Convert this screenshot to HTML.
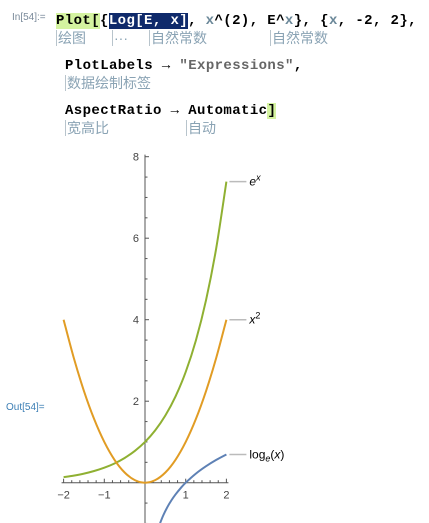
<!DOCTYPE html>
<html><head><meta charset="utf-8">
<style>
body{margin:0;width:429px;height:523px;background:#fff;position:relative;overflow:hidden;font-family:"Liberation Sans","Noto Sans CJK SC",sans-serif}
.code{position:absolute;font-family:"Liberation Mono",monospace;font-weight:bold;font-size:14px;white-space:pre;color:#000;line-height:16px;letter-spacing:0.4px}
.hint{position:absolute;font-size:14px;color:#8aa3b4;white-space:pre;font-family:"Liberation Sans","Noto Sans CJK SC",sans-serif;line-height:16px;border-left:1px solid #b8c4cc;padding-left:1px}
.g{color:#6b8899}.s{color:#666}
.lbl{position:absolute;font-size:10px;color:#3d7fb5}
</style></head><body>
<div class="lbl" style="left:12px;top:12px;color:#7a8a9a">In[54]:=</div>
<div class="code" style="left:56px;top:13px"><span style="background:#d4f3a0">Plot</span><span style="background:#d4f3a0">[</span>{<span style="background:#0f2a6b;color:#fff">Log[E, x]</span>, <span class="g">x</span>^(2), E^<span class="g">x</span>}, {<span class="g">x</span>, -2, 2},</div>
<div class="hint" style="left:56px;top:30px">绘图</div>
<div class="hint" style="left:112px;top:30px">···</div>
<div class="hint" style="left:149px;top:30px">自然常数</div>
<div class="hint" style="left:270px;top:30px">自然常数</div>
<div class="code" style="left:65px;top:58px">PlotLabels → <span class="s">"Expressions"</span>,</div>
<div class="hint" style="left:65px;top:75px">数据绘制标签</div>
<div class="code" style="left:65px;top:103px">AspectRatio → Automatic<span style="background:#d4f3a0">]</span></div>
<div class="hint" style="left:65px;top:120px">宽高比</div>
<div class="hint" style="left:186px;top:120px">自动</div>
<div class="lbl" style="left:6px;top:402px">Out[54]=</div>
<svg id="chart" width="429" height="523" style="position:absolute;left:0;top:0"></svg>
<script>
const xsQ=[-2,-1.75,-1.5,-1.25,-1,-0.75,-0.5,-0.25,0,0.25,0.5,0.75,1,1.25,1.5,1.75,2];
const sqVals=[4,3.0625,2.25,1.5625,1,0.5625,0.25,0.0625,0,0.0625,0.25,0.5625,1,1.5625,2.25,3.0625,4];
const expVals=[0.135,0.174,0.223,0.287,0.368,0.472,0.607,0.779,1,1.284,1.649,2.117,2.718,3.49,4.482,5.755,7.389];
const xsL=[0.37,0.45,0.55,0.65,0.75,0.875,1,1.25,1.5,1.75,2];
const logVals=[-0.994,-0.799,-0.598,-0.431,-0.288,-0.134,0,0.223,0.405,0.560,0.693];
const xTicks=[-2,-1,1,2];const xTickLabels=["−2","−1","1","2"];
const yTicks=[2,4,6,8];const yTickLabels=["2","4","6","8"];
const NS="http://www.w3.org/2000/svg";const svg=document.getElementById('chart');
const X=v=>145+v*40.7, Y=v=>482.7-v*40.75;
function el(t,a){const e=document.createElementNS(NS,t);for(const k in a)e.setAttribute(k,a[k]);svg.appendChild(e);return e;}
let ax=el('line',{x1:X(-2.05),x2:X(2.05),y1:Y(0),y2:Y(0),stroke:'#555','stroke-width':1});

let ay=el('line',{x1:X(0),x2:X(0),y1:Y(8.05),y2:523,stroke:'#555','stroke-width':1});

for(let i=-20;i<=20;i++){const v=i/10;if(i%2)continue;const major=i%10===0;
 const t=el('line',{x1:X(v),x2:X(v),y1:Y(0),y2:Y(0)-(major?4:2.5),stroke:'#555','stroke-width':1});
 }
for(let i=-2;i<=16;i++){const v=i/2;if(v===0)continue;const major=i%4===0;
 const t=el('line',{x1:X(0),x2:X(0)+(major?4:2.5),y1:Y(v),y2:Y(v),stroke:'#555','stroke-width':1});
 }
xTicks.forEach((v,i)=>{const t=el('text',{x:X(v),y:Y(0)+16,'text-anchor':'middle','font-size':11,fill:'#444','font-family':'Liberation Sans'});t.textContent=xTickLabels[i];
 });
yTicks.forEach((v,i)=>{const t=el('text',{x:X(0)-6,y:Y(v)+4,'text-anchor':'end','font-size':11,fill:'#444','font-family':'Liberation Sans'});t.textContent=yTickLabels[i];
 });
function curve(xs,ys,color,name){const P=xs.map((x,i)=>[X(x),Y(ys[i])]);
 let d='M'+P[0][0]+','+P[0][1];
 for(let i=0;i<P.length-1;i++){const p0=P[i-1]||P[i],p1=P[i],p2=P[i+1],p3=P[i+2]||p2;
  d+=` C${p1[0]+(p2[0]-p0[0])/6},${p1[1]+(p2[1]-p0[1])/6} ${p2[0]-(p3[0]-p1[0])/6},${p2[1]-(p3[1]-p1[1])/6} ${p2[0]},${p2[1]}`;}
 const p=el('path',{d,fill:'none',stroke:color,'stroke-width':2});
 }
curve(xsQ,expVals,'#8fb032','series-exp');
curve(xsQ,sqVals,'#e19c24','series-square');
curve(xsL,logVals,'#5e81b5','series-log');
function lab(yv,html,name){const y=Y(yv);
 const l=el('line',{x1:X(2)+3,x2:X(2)+20,y1:y,y2:y,stroke:'#bbb','stroke-width':1.5});
 
 const t=el('text',{x:X(2)+23,y:y+4,'font-size':12,fill:'#000','font-family':'Liberation Sans'});t.innerHTML=html;
 }
lab(expVals[expVals.length-1],'<tspan font-style="italic">e</tspan><tspan font-style="italic" font-size="9" dy="-5">x</tspan>','label-exp');
lab(sqVals[sqVals.length-1],'<tspan font-style="italic">x</tspan><tspan font-size="9" dy="-5">2</tspan>','label-square');
lab(logVals[logVals.length-1],'log<tspan font-style="italic" font-size="9" dy="3">e</tspan><tspan dy="-3">(</tspan><tspan font-style="italic">x</tspan>)','label-log');
</script>
</body></html>
